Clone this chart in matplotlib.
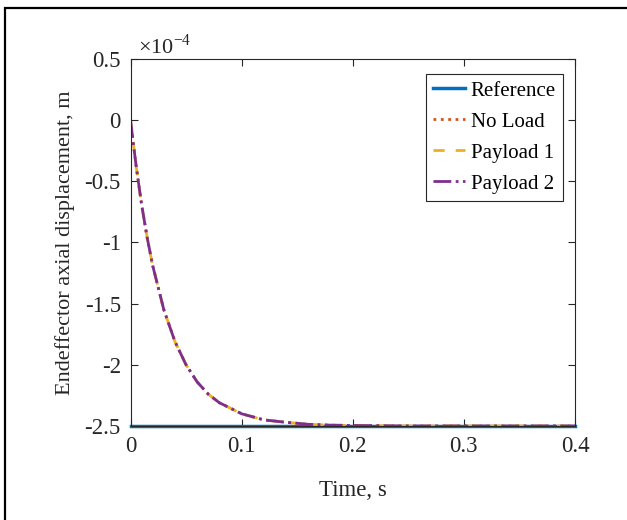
import matplotlib
matplotlib.use('Agg')
import matplotlib.pyplot as plt
from matplotlib.patches import Rectangle

plt.rcParams['font.family'] = ['Liberation Serif', 'DejaVu Serif']
plt.rcParams['mathtext.fontset'] = 'custom'
plt.rcParams['mathtext.rm'] = 'Liberation Serif'
plt.rcParams['axes.unicode_minus'] = False

# time (s) and displacement in units of 1e-4 m
t = [0, 0.005, 0.01, 0.015, 0.02, 0.03, 0.04, 0.05, 0.06, 0.07, 0.08,
     0.1, 0.12, 0.14, 0.16, 0.18, 0.2, 0.25, 0.3, 0.35, 0.4]
ref = [-2.5] * len(t)
no_load = [0, -0.37, -0.69, -0.96, -1.19, -1.55, -1.81, -2.00, -2.14, -2.24, -2.31,
           -2.40, -2.45, -2.47, -2.486, -2.493, -2.496, -2.5, -2.5, -2.5, -2.5]
payload1 = [0, -0.37, -0.69, -0.96, -1.19, -1.55, -1.81, -2.00, -2.14, -2.24, -2.31,
            -2.40, -2.45, -2.47, -2.486, -2.493, -2.496, -2.5, -2.5, -2.5, -2.5]
payload2 = [0, -0.37, -0.69, -0.96, -1.19, -1.55, -1.81, -2.00, -2.14, -2.24, -2.31,
            -2.40, -2.45, -2.47, -2.486, -2.493, -2.496, -2.5, -2.5, -2.5, -2.5]

x_ticks = [0, 0.1, 0.2, 0.3, 0.4]
y_ticks = [0.5, 0, -0.5, -1, -1.5, -2, -2.5]

fig = plt.figure(figsize=(6.27, 5.2), dpi=100)
ax = fig.add_axes([130.5 / 627, 1 - 426 / 520, (575 - 130.5) / 627, (426 - 59) / 520])

ax.plot(t, ref, color='#0072BD', linewidth=2.5, label='Reference', clip_on=False)
ax.plot(t, no_load, color='#D95319', linewidth=2, linestyle=':', label='No Load')
ax.plot(t, payload1, color='#EDB120', linewidth=2, linestyle=(0, (4, 4)), label='Payload 1')
ax.plot(t, payload2, color='#7E2F8E', linewidth=2, linestyle='-.', label='Payload 2')

ax.set_xlim(0, 0.4)
ax.set_ylim(-2.5, 0.5)
ax.set_xticks(x_ticks)
ax.set_xticklabels(['0', '0.1', '0.2', '0.3', '0.4'])
ax.set_yticks(y_ticks)
ax.set_yticklabels(['0.5', '0', '-0.5', '-1', '-1.5', '-2', '-2.5'])
ax.tick_params(direction='in', top=True, right=True, length=5, width=0.8,
               color='#262626', labelsize=16.5, labelcolor='#262626', pad=7)
for s in ax.spines.values():
    s.set_color('#262626')
    s.set_linewidth(0.8)

ax.set_xlabel('Time, s', fontsize=16.5, color='#262626', labelpad=17)
ax.set_ylabel('Endeffector axial displacement, m', fontsize=16, color='#262626', labelpad=7)
ax.text(0.016, 1.0, r'$\times$10$^{\mathrm{-4}}$', transform=ax.transAxes,
        fontsize=16, color='#262626', ha='left', va='bottom')

leg = ax.legend(loc='upper right', bbox_to_anchor=(0.973, 0.96), fontsize=15,
                fancybox=False, framealpha=1, edgecolor='#262626',
                handlelength=1.55, handletextpad=0.25, borderpad=0.35, labelspacing=0.55,
                borderaxespad=0)
leg.get_frame().set_linewidth(0.8)

fig.patches.append(Rectangle((5 / 627, -0.1), 1.2, 1.1 - 8 / 520, transform=fig.transFigure,
                             fill=False, edgecolor='black', linewidth=1.6, zorder=10))

fig.savefig('out.png', dpi=100)
